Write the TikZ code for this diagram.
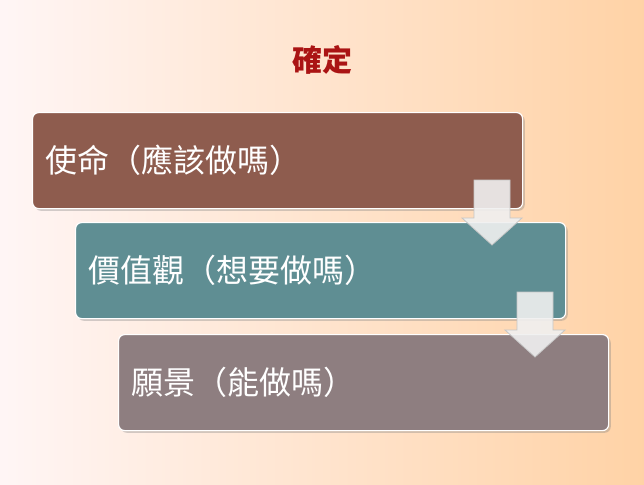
\documentclass[tikz,border=0pt]{standalone}
\usepackage{fontspec}
\newfontfamily\cjk{Noto Sans CJK TC}
\usetikzlibrary{shadows}
\definecolor{boxbrown}{RGB}{142,92,78}
\definecolor{boxteal}{RGB}{95,142,147}
\definecolor{boxmauve}{RGB}{142,126,128}
\definecolor{titlered}{RGB}{170,20,20}
\tikzset{
  stepbox/.style={draw=white, line width=1.2pt, rounded corners=6pt, minimum width=490pt,
    minimum height=96pt, anchor=north west, text=white, font=\cjk\fontsize{32}{32}\selectfont,
    align=left, text width=465pt, inner sep=12pt, drop shadow={opacity=.35}},
  blockarrow/.style={fill=gray!12, draw=gray!45, line width=.8pt, fill opacity=.9}
}
\begin{document}
\begin{tikzpicture}[x=1pt,y=-1pt]
	\shade[left color=pink!15, right color=orange!35] (0,0) rectangle (644,484);
	\useasboundingbox (0,0) rectangle (644,484);
	\node[text=titlered, font=\cjk\bfseries\fontsize{30}{30}\selectfont] (title) at (322,60) {確定};
	\node[stepbox, fill=boxbrown] (mission) at (32,112) {使命（應該做嗎）};
	\node[stepbox, fill=boxteal] (values) at (75,222) {價值觀（想要做嗎）};
	\node[stepbox, fill=boxmauve] (vision) at (118,334) {願景（能做嗎）};
	% down arrows
	\draw[blockarrow] (474,180) -- (510,180) -- (510,218) -- (522,218) -- (492,245) -- (462,218) -- (474,218) -- cycle;
	\draw[blockarrow] (517,292) -- (553,292) -- (553,330) -- (565,330) -- (535,357) -- (505,330) -- (517,330) -- cycle;
\end{tikzpicture}
\end{document}
